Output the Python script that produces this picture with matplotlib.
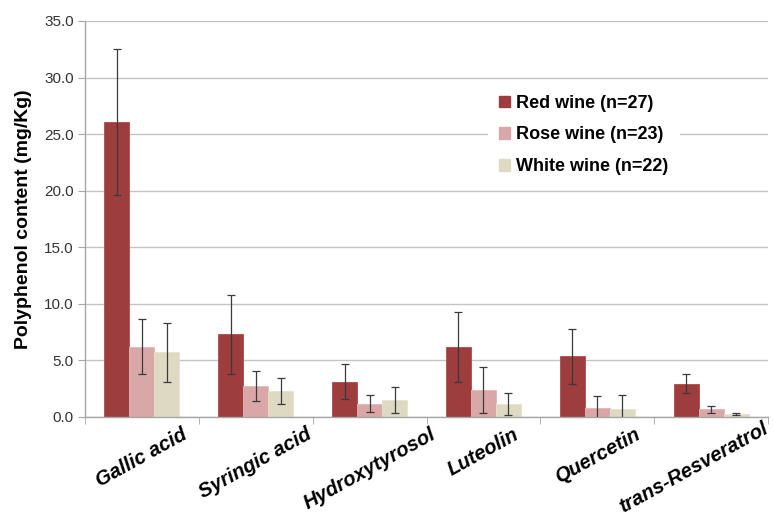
import matplotlib
matplotlib.use("Agg")
import matplotlib.pyplot as plt
from matplotlib.patches import Patch
from matplotlib.transforms import ScaledTranslation
import numpy as np

compounds = ["Gallic acid", "Syringic acid", "Hydroxytyrosol", "Luteolin",
             "Quercetin", "trans-Resveratrol"]
series = ["Red wine (n=27)", "Rose wine (n=23)", "White wine (n=22)"]

red_mean = [26.1, 7.3, 3.1, 6.2, 5.35, 2.92]
red_sd = [6.45, 3.5, 1.57, 3.1, 2.43, 0.85]
rose_mean = [6.2, 2.7, 1.15, 2.35, 0.77, 0.65]
rose_sd = [2.4, 1.35, 0.75, 2.05, 1.06, 0.32]
white_mean = [5.7, 2.3, 1.5, 1.15, 0.68, 0.24]
white_sd = [2.6, 1.15, 1.17, 0.97, 1.27, 0.1]

yticks = [0, 5, 10, 15, 20, 25, 30, 35]

colors = ["#9E3D3D", "#D9A7A7", "#DDD9C3"]
edges = ["#B04A4A", "#E3B5B5", "#E6E2CF"]

plt.rcParams["font.family"] = ["Liberation Sans", "DejaVu Sans"]

fig = plt.figure(figsize=(7.74, 5.16), dpi=100)
ax = fig.add_axes([85 / 774, 1 - 416.7 / 516, 683 / 774, 395.7 / 516])

x = np.arange(len(compounds))
w = 0.22
means = [red_mean, rose_mean, white_mean]
sds = [red_sd, rose_sd, white_sd]
for k, (m, s) in enumerate(zip(means, sds)):
    ax.bar(x + (k - 1) * w, m, width=w, color=colors[k], edgecolor=edges[k],
           linewidth=0.6, zorder=2,
           yerr=s, error_kw=dict(ecolor="#3a3a3a", elinewidth=0.9,
                                 capsize=2.8, capthick=0.9, zorder=3))

ax.set_xlim(-0.5, len(compounds) - 0.5)
ax.set_ylim(0, 35)
ax.set_yticks(yticks)
ax.set_yticklabels([f"{v:.1f}" for v in yticks])
ax.yaxis.grid(True, color="#C4C4C4", linewidth=1.0, zorder=0)
ax.set_axisbelow(True)

for side in ["top", "right"]:
    ax.spines[side].set_visible(False)
for side in ["left", "bottom"]:
    ax.spines[side].set_color("#A6A6A6")
    ax.spines[side].set_linewidth(1.0)

ax.tick_params(axis="y", length=5, color="#A6A6A6", pad=3,
               labelsize=11, labelcolor="#333333")
ax.set_xticks(x)
ax.set_xticks(np.arange(-0.5, len(compounds)), minor=True)
ax.tick_params(axis="x", which="major", length=0, pad=6)
ax.tick_params(axis="x", which="minor", length=5, color="#A6A6A6")
ax.set_xticklabels(compounds, rotation=29, ha="center", va="top",
                   fontsize=14.5, fontweight="bold", fontstyle="italic")

# keep the long last label inside the figure edges
last = ax.get_xticklabels()[-1]
last.set_transform(last.get_transform()
                   + ScaledTranslation(-17 / 100, 6 / 100, fig.dpi_scale_trans))

ax.set_ylabel("Polyphenol content (mg/Kg)", fontsize=14, fontweight="bold",
              labelpad=9)

handles = [Patch(facecolor=c, edgecolor=c) for c in colors]
leg = ax.legend(handles, series, loc="center",
                bbox_to_anchor=(0.7306, 0.712), frameon=True,
                facecolor="white", edgecolor="none", framealpha=1,
                fancybox=False, prop=dict(size=13, weight="bold"),
                handlelength=0.6, handleheight=0.6, handletextpad=0.35,
                labelspacing=0.82, borderpad=0.6)

fig.savefig("out.png", dpi=100)
